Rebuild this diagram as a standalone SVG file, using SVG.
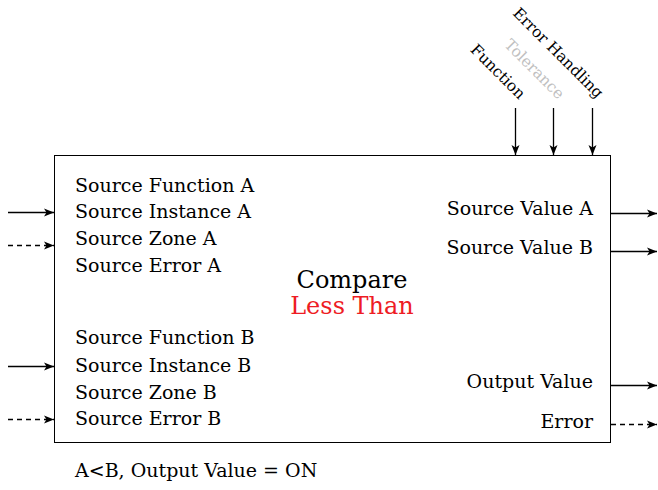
<svg xmlns="http://www.w3.org/2000/svg" width="658" height="490" viewBox="0 0 658 490">
<defs>
<marker id="ah" viewBox="0 0 10 10" refX="10" refY="5" markerWidth="10" markerHeight="10" markerUnits="userSpaceOnUse" orient="auto">
<path d="M0,1 L10,5 L0,9 L2.5,5 Z" fill="#000"/>
</marker>
</defs>
<style>
text{font-family:"DejaVu Serif","Liberation Serif",serif;font-size:19px;fill:#000}
.c{stroke:#000;stroke-width:1.3;fill:none;marker-end:url(#ah)}
.d{stroke-dasharray:5,4}
.r{text-anchor:end}
.rot{font-size:15.5px;text-anchor:end}
</style>
<rect width="658" height="490" fill="#fff"/>
<g id="block">
<rect x="54.5" y="155.5" width="556" height="287" fill="#fff" stroke="#000" stroke-width="1"/>
<text x="352" y="288" style="font-size:24px;text-anchor:middle">Compare</text>
<text x="352" y="314" style="font-size:24px;text-anchor:middle;fill:#ee1c24">Less Than</text>
</g>
<g id="inputs-a">
<text x="75" y="192">Source Function A</text>
<text x="75" y="218">Source Instance A</text>
<text x="75" y="245">Source Zone A</text>
<text x="75" y="272">Source Error A</text>
</g>
<g id="inputs-b">
<text x="75" y="344">Source Function B</text>
<text x="75" y="372">Source Instance B</text>
<text x="75" y="399">Source Zone B</text>
<text x="75" y="425">Source Error B</text>
</g>
<g id="outputs">
<text class="r" x="593" y="215">Source Value A</text>
<text class="r" x="593" y="254">Source Value B</text>
<text class="r" x="593" y="388">Output Value</text>
<text class="r" x="593" y="428">Error</text>
</g>
<g id="params">
<text class="rot" transform="translate(519,100) rotate(45)">Function</text>
<text class="rot" transform="translate(558,100) rotate(45)" style="fill:#c0c0c0">Tolerance</text>
<text class="rot" transform="translate(597,99) rotate(45)">Error Handling</text>
</g>
<g id="note">
<text x="75" y="477">A&lt;B, Output Value = ON</text>
</g>
<g id="connectors">
<line class="c" x1="8" y1="212.5" x2="54" y2="212.5"/>
<line class="c d" x1="8" y1="245.5" x2="54" y2="245.5"/>
<line class="c" x1="8" y1="366.5" x2="54" y2="366.5"/>
<line class="c d" x1="8" y1="419.5" x2="54" y2="419.5"/>
<line class="c" x1="611" y1="213.5" x2="657" y2="213.5"/>
<line class="c" x1="611" y1="251.5" x2="657" y2="251.5"/>
<line class="c" x1="611" y1="385.5" x2="657" y2="385.5"/>
<line class="c d" x1="611" y1="424.5" x2="657" y2="424.5"/>
<line class="c" x1="515.5" y1="108" x2="515.5" y2="155"/>
<line class="c" x1="553.5" y1="108" x2="553.5" y2="155"/>
<line class="c" x1="592.5" y1="108" x2="592.5" y2="155"/>
</g>
</svg>
